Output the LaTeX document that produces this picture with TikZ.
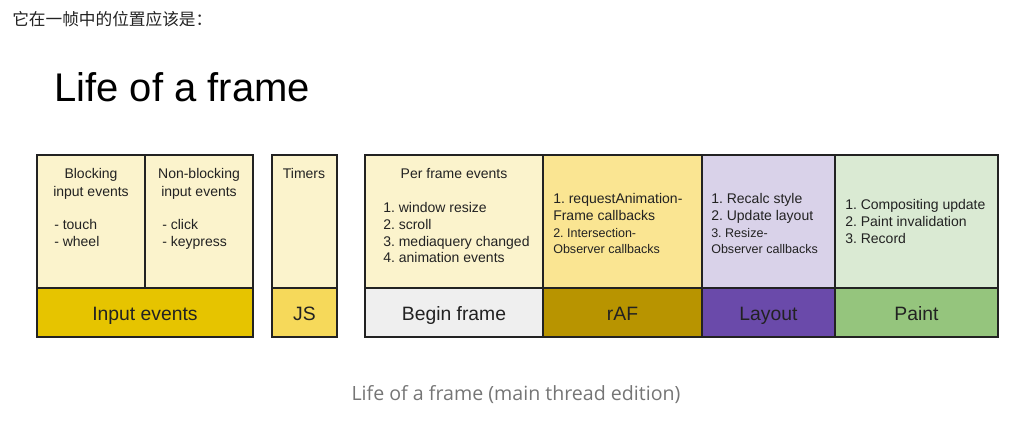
\documentclass[tikz,border=0pt]{standalone}
\usepackage{fontspec}
\setmainfont{Liberation Sans}
\newfontfamily\cjkfont{Noto Sans CJK SC}
\newfontfamily\capfont{Open Sans}
\usepackage{tikz}
\frenchspacing

\definecolor{ink}{HTML}{222222}
\definecolor{paleyellow}{HTML}{FBF3CC}
\definecolor{inputyellow}{HTML}{E6C400}
\definecolor{jsyellow}{HTML}{F6D95A}
\definecolor{beginwhite}{HTML}{EFEFEF}
\definecolor{rafyellow}{HTML}{FAE592}
\definecolor{rafdark}{HTML}{B89400}
\definecolor{layoutlilac}{HTML}{D9D2E9}
\definecolor{layoutpurple}{HTML}{6A4AAA}
\definecolor{paintmint}{HTML}{DAEAD3}
\definecolor{paintgreen}{HTML}{95C57D}
\definecolor{capgray}{HTML}{757575}

\tikzset{
  box/.style={draw=ink, line width=1.2pt},
  listtxt/.style={font=\fontsize{10.5}{12.5}\selectfont, text=ink, inner sep=0pt, align=left, anchor=north west},
  headtxt/.style={font=\fontsize{10.5}{13.2}\selectfont, text=ink, inner sep=0pt, align=center, anchor=north},
  bigtxt/.style={font=\fontsize{14.5}{17}\selectfont, text=ink, inner sep=0pt, anchor=base},
}
\newcommand{\smalltxt}{\fontsize{9.4}{11.4}\selectfont}

\begin{document}
\begin{tikzpicture}[x=0.75pt, y=-0.75pt]
  \useasboundingbox (0,0) rectangle (1018,422);

  % Header texts
  \node[anchor=base west, inner sep=0pt, text=ink, font=\cjkfont\fontsize{12.5}{14}\selectfont]
    (note) at (12,25.5) {它在一帧中的位置应该是：};
  \node[anchor=base west, inner sep=0pt, font=\fontsize{30}{34}\selectfont]
    (title) at (54,101.5) {Life of a frame};

  % Input events block
  \fill[paleyellow] (37,155) rectangle (253,288);
  \fill[inputyellow] (37,288) rectangle (253,337);
  \draw[box] (37,155) rectangle (253,337);
  \draw[box] (37,288) -- (253,288);
  \draw[box] (145,155) -- (145,288);

  % JS block
  \fill[paleyellow] (272,155) rectangle (337,288);
  \fill[jsyellow] (272,288) rectangle (337,337);
  \draw[box] (272,155) rectangle (337,337);
  \draw[box] (272,288) -- (337,288);

  % Frame block
  \fill[paleyellow] (365,155) rectangle (543,288);
  \fill[beginwhite] (365,288) rectangle (543,337);
  \fill[rafyellow] (543,155) rectangle (702,288);
  \fill[rafdark] (543,288) rectangle (702,337);
  \fill[layoutlilac] (702,155) rectangle (835,288);
  \fill[layoutpurple] (702,288) rectangle (835,337);
  \fill[paintmint] (835,155) rectangle (998,288);
  \fill[paintgreen] (835,288) rectangle (998,337);
  \draw[box] (365,155) rectangle (998,337);
  \draw[box] (365,288) -- (998,288);
  \draw[box] (543,155) -- (543,337);
  \draw[box] (702,155) -- (702,337);
  \draw[box] (835,155) -- (835,337);

  % Upper cell texts
  \node[headtxt] (blockhead) at (91,168) {Blocking\\input events};
  \node[listtxt] (blocklist) at (54,219) {- touch\\- wheel};
  \node[headtxt] (nonblockhead) at (199,168) {Non-blocking\\input events};
  \node[listtxt] (nonblocklist) at (162,219) {- click\\- keypress};
  \node[headtxt] (timers) at (304,168) {Timers};
  \node[headtxt] (perframe) at (454,168) {Per frame events};
  \node[listtxt] (perframelist) at (383,202.5)
    {1. window resize\\2. scroll\\3. mediaquery changed\\4. animation events};
  \node[listtxt] (rafcb) at (553,193.5)
    {1. requestAnimation-\\Frame callbacks\\{\smalltxt 2. Intersection-}\\{\smalltxt Observer callbacks}};
  \node[listtxt] (layoutcb) at (711,193.5)
    {1. Recalc style\\2. Update layout\\{\smalltxt 3. Resize-}\\{\smalltxt Observer callbacks}};
  \node[listtxt] (paintcb) at (845,199.5)
    {1. Compositing update\\2. Paint invalidation\\3. Record};

  % Lower cell labels
  \node[bigtxt] (inputlbl) at (145,320) {Input events};
  \node[bigtxt] (jslbl) at (304.5,320) {JS};
  \node[bigtxt] (beginlbl) at (454,320) {Begin frame};
  \node[bigtxt] (raflbl) at (622.5,320) {rAF};
  \node[bigtxt] (layoutlbl) at (768.5,320) {Layout};
  \node[bigtxt] (paintlbl) at (916.5,320) {Paint};

  % Caption
  \node[text=capgray, inner sep=0pt, font=\capfont\fontsize{14.7}{17}\selectfont]
    (caption) at (516,395) {Life of a frame (main thread edition)};
\end{tikzpicture}
\end{document}
